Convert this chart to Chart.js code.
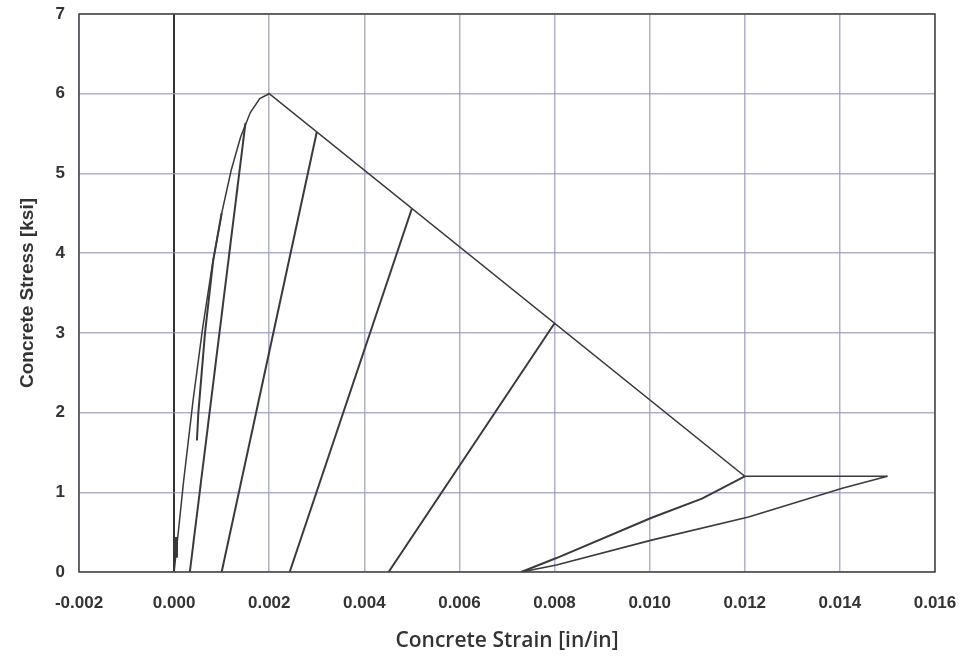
<!DOCTYPE html>
<html>
<head>
<meta charset="utf-8">
<script src="https://cdn.jsdelivr.net/npm/chart.js@4/dist/chart.umd.min.js"></script>
<style>
  html, body { margin: 0; padding: 0; background: #fff; }
  #wrap { width: 963px; height: 659px; }
</style>
</head>
<body>
<div id="wrap"><canvas id="stressChart" width="963" height="659"></canvas></div>
<script>
// strain [in/in] and stress [ksi]
var envStrain = [0, 0.0002, 0.0004, 0.0006, 0.0008, 0.001, 0.0012, 0.0014, 0.0016, 0.0018, 0.002, 0.012, 0.015];
var envStress = [0, 1.14, 2.16, 3.06, 3.84, 4.5, 5.04, 5.46, 5.76, 5.94, 6.0, 1.2, 1.2];

var unload1Strain = [0.0015, 0.00033];
var unload1Stress = [5.63, 0];

var reloadStrain = [0.00048, 0.00051, 0.00065, 0.00082, 0.001];
var reloadStress = [1.65, 2.0, 3.0, 3.9, 4.5];

var unload2Strain = [0.003, 0.001];
var unload2Stress = [5.52, 0];

var unload3Strain = [0.005, 0.00243];
var unload3Stress = [4.56, 0];

var unload4Strain = [0.008, 0.00451];
var unload4Stress = [3.12, 0];

var loopUpStrain = [0.0073, 0.00804, 0.01004, 0.0111, 0.012];
var loopUpStress = [0, 0.175, 0.68, 0.92, 1.2];

var loopLowStrain = [0.0073, 0.00804, 0.01004, 0.01208, 0.01405, 0.015];
var loopLowStress = [0, 0.088, 0.40, 0.69, 1.05, 1.2];

var stubStrain = [0.00004, 0.00004];
var stubStress = [0.18, 0.44];

var xTicks = [-0.002, 0.000, 0.002, 0.004, 0.006, 0.008, 0.010, 0.012, 0.014, 0.016];
var yTicks = [0, 1, 2, 3, 4, 5, 6, 7];

function pts(xs, ys) {
  return xs.map(function (x, i) { return { x: x, y: ys[i] }; });
}

function curve(xs, ys, w) {
  return {
    data: pts(xs, ys),
    showLine: true,
    borderColor: '#3a3a3a',
    borderWidth: w,
    pointRadius: 0,
    tension: 0,
    fill: false
  };
}

var framePlugin = {
  id: 'frame',
  afterDatasetsDraw: function (chart) {
    var a = chart.chartArea, c = chart.ctx;
    c.save();
    c.strokeStyle = '#444';
    c.lineWidth = 1.5;
    c.strokeRect(a.left, a.top, a.right - a.left, a.bottom - a.top);
    c.restore();
  }
};

var ctx = document.getElementById('stressChart').getContext('2d');
var stressChart = new Chart(ctx, {
  type: 'scatter',
  data: {
    datasets: [
      curve(envStrain, envStress, 1.5),
      curve(unload1Strain, unload1Stress, 2),
      curve(reloadStrain, reloadStress, 2),
      curve(unload2Strain, unload2Stress, 2),
      curve(unload3Strain, unload3Stress, 2),
      curve(unload4Strain, unload4Stress, 2),
      curve(loopUpStrain, loopUpStress, 2),
      curve(loopLowStrain, loopLowStress, 1.6),
      curve(stubStrain, stubStress, 4)
    ]
  },
  options: {
    responsive: false,
    animation: false,
    layout: { padding: { left: 0, right: 28, top: 14, bottom: 5 } },
    plugins: { legend: { display: false }, tooltip: { enabled: false } },
    scales: {
      x: {
        type: 'linear',
        min: -0.002,
        max: 0.016,
        afterBuildTicks: function (s) { s.ticks = xTicks.map(function (v) { return { value: v }; }); },
        afterFit: function (s) { s.height = 82; s.paddingLeft = 0; s.paddingRight = 0; },
        border: { display: false },
        grid: {
          drawTicks: false,
          lineWidth: function (c) { return c.tick && c.tick.value === 0 ? 2 : 1.5; },
          color: function (c) { return c.tick && c.tick.value === 0 ? '#333' : 'rgba(150,150,190,0.75)'; }
        },
        ticks: {
          padding: 21,
          color: '#333',
          font: { family: 'Liberation Sans', size: 17, weight: 'bold' },
          callback: function (v) { return Number(v).toFixed(3); }
        },
        title: {
          display: true,
          text: 'Concrete Strain [in/in]',
          color: '#333',
          padding: { top: 0, bottom: 0 },
          font: { family: 'Open Sans', size: 21, weight: '600' }
        }
      },
      y: {
        type: 'linear',
        min: 0,
        max: 7,
        afterBuildTicks: function (s) { s.ticks = yTicks.map(function (v) { return { value: v }; }); },
        afterFit: function (s) { s.width = 79; s.paddingTop = 0; s.paddingBottom = 0; },
        border: { display: false },
        grid: {
          drawTicks: false,
          lineWidth: 1.5,
          color: 'rgba(150,150,190,0.75)'
        },
        ticks: {
          padding: 14,
          color: '#333',
          font: { family: 'Liberation Sans', size: 17, weight: 'bold' }
        },
        title: {
          display: true,
          text: 'Concrete Stress [ksi]',
          color: '#333',
          padding: { top: 16, bottom: 0 },
          font: { family: 'Liberation Sans', size: 19, weight: 'bold' }
        }
      }
    }
  },
  plugins: [framePlugin]
});
</script>
</body>
</html>
